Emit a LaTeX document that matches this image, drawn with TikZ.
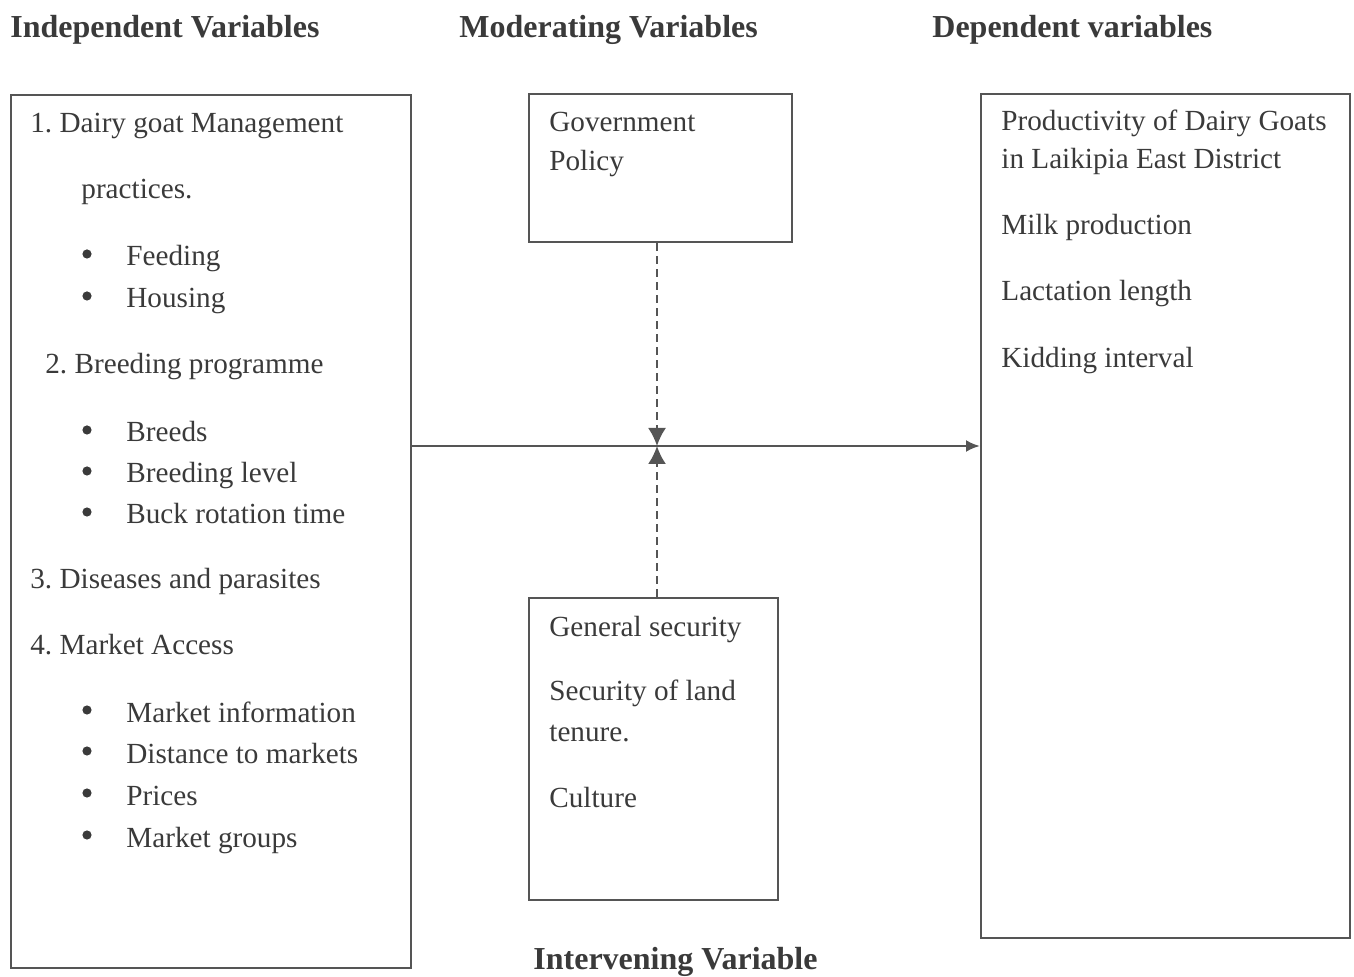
\documentclass[tikz,border=0pt]{standalone}
\usepackage{fontspec}
\setmainfont{Liberation Serif}
\usetikzlibrary{arrows.meta}
\usetikzlibrary{positioning}
\definecolor{ink}{HTML}{3A3A3A}
\definecolor{rulegray}{HTML}{555555}
\frenchspacing
\tikzset{
  % Common styles for the framework
  frame/.style={draw=rulegray, line width=1.2pt, rectangle, anchor=north west, inner sep=0pt},
  txt/.style={anchor=base west, inner sep=0pt, text=ink, font=\fontsize{14.6}{17}\selectfont},
  bul/.style={circle, fill=ink, inner sep=0pt, minimum size=4.6pt},
  head/.style={anchor=base west, inner sep=0pt, text=ink, font=\fontsize{16}{19}\selectfont\bfseries}
}

\begin{document}
\begin{tikzpicture}[
    x=0.5pt, y=-0.5pt,
    arrow/.style={-{Latex[length=7pt,width=6pt]}, draw=rulegray, line width=1.3pt},
    dashed_arrow/.style={-{Latex[length=9pt,width=9pt]}, draw=rulegray, line width=1pt, dash pattern=on 4pt off 2.5pt}
]
\useasboundingbox (0,0) rectangle (1354,977);

% Headings
\node[head] (hindep) at (10,38) {Independent Variables};
\node[head] (hmod) at (459,38) {Moderating Variables};
\node[head] (hdep) at (932,38) {Dependent variables};
\node[head] (hint) at (533,969) {Intervening Variable};

% Boxes
\node[frame, minimum width=200pt, minimum height=436.5pt] (indep) at (10,94) {};
\node[frame, minimum width=131.5pt, minimum height=74pt] (policy) at (528,93) {};
\node[frame, minimum width=124.5pt, minimum height=151pt] (intervene) at (528,597) {};
\node[frame, minimum width=184.5pt, minimum height=422pt] (dep) at (980,93) {};

% Independent variables
\node[txt] (mgmt) at (30,133) {1. Dairy goat Management};
\node[txt] (mgmt2) at (81,199) {practices.};
\node[txt] (breed) at (45,374) {2. Breeding programme};
\node[txt] (disease) at (30,589) {3. Diseases and parasites};
\node[txt] (market) at (30,655) {4. Market Access};
\foreach \y/\t [count=\i] in {266/Feeding, 308/Housing, 442/Breeds, 483/Breeding level,
    524/Buck rotation time, 722/Market information, 763/Distance to markets,
    805/Prices, 847/Market groups}{
  \node[bul] (dot\i) at (87,\y-12) {};
  \node[txt] (item\i) at (126,\y) {\t};
}

% Moderating variable
\node[txt] (gov) at (549,132) {Government};
\node[txt] (pol) at (549,171) {Policy};

% Intervening variables
\node[txt] (gensec) at (549,637) {General security};
\node[txt] (landsec) at (549,701) {Security of land};
\node[txt] (tenure) at (549,741) {tenure.};
\node[txt] (culture) at (549,807) {Culture};

% Dependent variables
\node[txt] (prod) at (1001,131) {Productivity of Dairy Goats};
\node[txt] (prod2) at (1001,169) {in Laikipia East District};
\node[txt] (milk) at (1001,235) {Milk production};
\node[txt] (lact) at (1001,301) {Lactation length};
\node[txt] (kid) at (1001,368) {Kidding interval};

% Connectors
\coordinate (junction) at (657,446);
\draw[arrow] (indep.east |- junction) -- (dep.west |- junction);
\draw[dashed_arrow] (policy.south -| junction) -- (junction);
\draw[dashed_arrow] (intervene.north -| junction) -- (junction);

\end{tikzpicture}
\end{document}
